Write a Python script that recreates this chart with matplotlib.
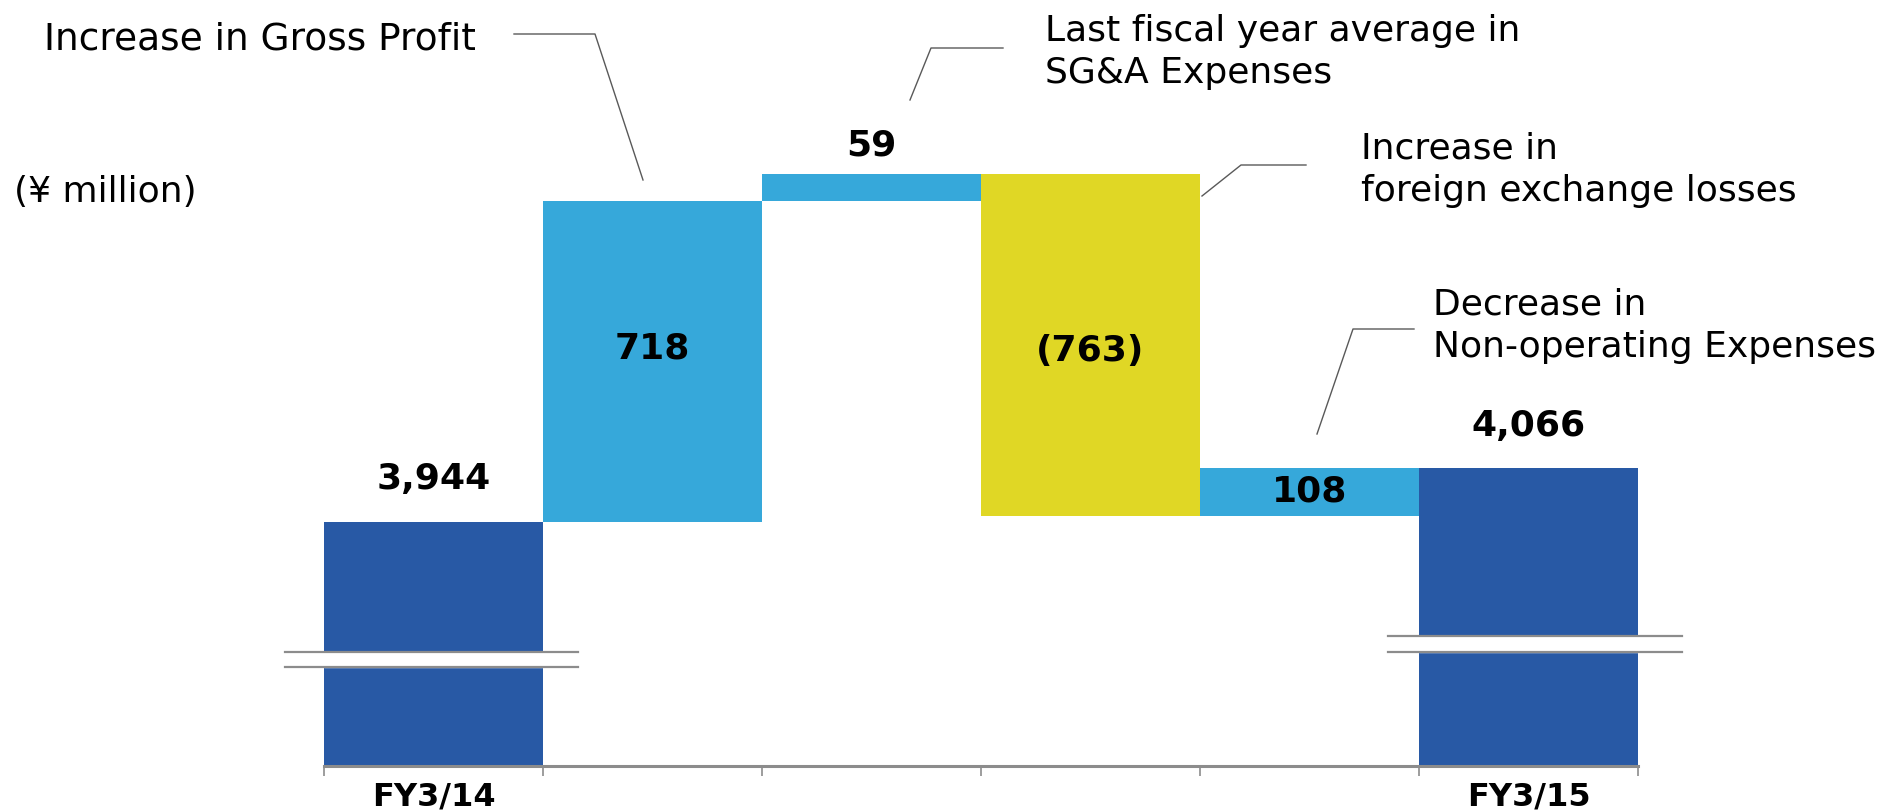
import numpy as np
import matplotlib.pyplot as plt
from matplotlib.lines import Line2D
from matplotlib.patches import Rectangle

# data
categories = ["FY3/14", "", "", "", "", "FY3/15"]
start_total = 3944
changes = [718, 59, -763, 108]
end_total = 4066
start_label = "3,944"
end_label = "4,066"
change_labels = ["718", "59", "(763)", "108"]

dark_blue = "#2859A5"
light_blue = "#36A8DA"
yellow = "#E0D725"
grey = "#8C8C8C"

W, H = 1884, 811


def fx(x):
    return x / W


def fy(y):
    return 1 - y / H


fig = plt.figure(figsize=(W / 100, H / 100), dpi=100)
ax = fig.add_axes([fx(324), fy(766), (1638 - 324) / W, 766 / H])

y_floor = 3400
px_per_unit = 0.448
ax.set_xlim(-0.5, 5.5)
ax.set_ylim(y_floor, y_floor + 766 / px_per_unit)

# waterfall
ax.bar(0, start_total - y_floor, bottom=y_floor, width=1.0, color=dark_blue)
level = start_total
mids = []
tops = []
for i, c in enumerate(changes):
    lo = level if c > 0 else level + c
    ax.bar(i + 1, abs(c), bottom=lo, width=1.0,
           color=light_blue if c > 0 else yellow)
    mids.append(lo + abs(c) / 2)
    tops.append(lo + abs(c))
    level += c
ax.bar(5, end_total - y_floor, bottom=y_floor, width=1.0, color=dark_blue)

# axis breaks on the two total bars
for idx, lo, hi, x0, x1 in [(0, 3620, 3655, -0.68, 0.66),
                            (5, 3655, 3690, 4.36, 5.70)]:
    ax.add_patch(Rectangle((idx - 0.5, lo), 1.0, hi - lo, color="white", zorder=3))
    for yy in (lo, hi):
        ax.plot([x0, x1], [yy, yy], color=grey, lw=1.6, zorder=4, clip_on=False)

# value labels
bold = dict(fontsize=26, fontweight="bold", ha="center", va="center", color="black")
ax.annotate(start_label, (0, start_total), xytext=(0, 31), textcoords="offset points", **bold)
ax.annotate(end_label, (5, end_total), xytext=(0, 30), textcoords="offset points", **bold)
offsets = [9, 0, -4, 0]
for i, lab in enumerate(change_labels):
    if changes[i] == 59:
        ax.annotate(lab, (i + 1, tops[i]), xytext=(0, 21), textcoords="offset points", **bold)
    else:
        ax.annotate(lab, (i + 1, mids[i]), xytext=(0, offsets[i]), textcoords="offset points", **bold)

# axes styling
for s in ["top", "right", "left"]:
    ax.spines[s].set_visible(False)
ax.spines["bottom"].set_color(grey)
ax.spines["bottom"].set_linewidth(2.2)
ax.set_yticks([])
ax.set_xticks(np.arange(-0.5, 6, 1.0))
ax.set_xticklabels([])
ax.tick_params(axis="x", which="major", length=7, width=1.2, color=grey)
ax.set_xticks(range(6), minor=True)
ax.set_xticklabels(categories, minor=True, fontsize=23, fontweight="bold")
ax.tick_params(axis="x", which="minor", length=0, pad=11)

# notes and leader lines
note_font = dict(fontsize=26, color="black", va="center", ha="left", linespacing=1.3)
fig.text(fx(260), fy(40), "Increase in Gross Profit", **dict(note_font, ha="center", fontsize=27))
fig.text(fx(14), fy(192), "(¥ million)", **note_font)
fig.text(fx(1045), fy(52), "Last fiscal year average in\nSG&A Expenses", **note_font)
fig.text(fx(1361), fy(170), "Increase in\nforeign exchange losses", **note_font)
fig.text(fx(1433), fy(326), "Decrease in\nNon-operating Expenses", **note_font)

leaders = [
    [(514, 34), (595, 34), (643, 180)],
    [(910, 100), (931, 48), (1003, 48)],
    [(1202, 196), (1241, 165), (1306, 165)],
    [(1317, 434), (1353, 329), (1414, 329)],
]
for pts in leaders:
    xs = [fx(p[0]) for p in pts]
    ys = [fy(p[1]) for p in pts]
    fig.add_artist(Line2D(xs, ys, transform=fig.transFigure, color="#595959", lw=1.0))

fig.savefig("out.png", dpi=100)
